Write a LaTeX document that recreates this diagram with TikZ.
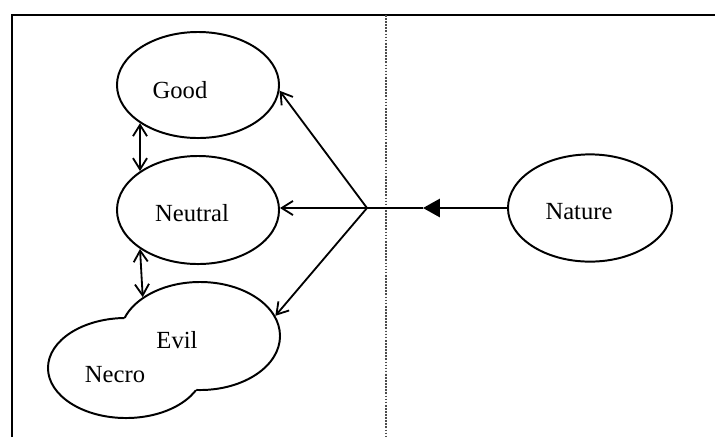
\documentclass[tikz,border=0pt]{standalone}
\usepackage{fontspec}
\setmainfont{Liberation Serif}
\usetikzlibrary{shapes.geometric, arrows.meta}

\begin{document}
\begin{tikzpicture}[x=0.025cm, y=-0.025cm,
		blob/.style={ellipse, draw, line width=1.4pt, inner sep=0pt, minimum width=4.05cm, minimum height=2.65cm},
		word/.style={font=\fontsize{17.5}{20}\selectfont, inner sep=0pt},
		link/.style={line width=1.3pt, >={Straight Barb[length=8pt, width=10pt]}}]
		\useasboundingbox (0,0) rectangle (715,437);
		\draw[line width=1.5pt] (12,437) -- (12,15) -- (715,15); % frame
		\draw[black!70, line width=1.2pt, densely dotted] (386,15) -- (386,437); % divider
%
		\node[blob] (good) at (198,85) {};
		\node[word] (goodtxt) at (180,90) {Good};
		\node[blob, minimum height=2.7cm] (neutral) at (198,210) {};
		\node[word] (neutraltxt) at (192,213) {Neutral};
		\begin{scope}[even odd rule]
			\clip (0,0) rectangle (715,437) (200,336) ellipse [x radius=80, y radius=54];
			\node[blob, minimum width=3.9cm, minimum height=2.5cm] (necro) at (126,368) {};
		\end{scope}
		\begin{scope}[even odd rule]
			\clip (0,0) rectangle (715,437) (126,368) ellipse [x radius=78, y radius=50];
			\node[blob, minimum width=4cm, minimum height=2.7cm] (evil) at (200,336) {};
		\end{scope}
		\node[word] (eviltxt) at (177,340) {Evil};
		\node[word] (necrotxt) at (115,375) {Necro};
		\node[blob, minimum width=4.1cm, minimum height=2.68cm] (nature) at (590,208) {};
		\node[word] (naturetxt) at (579,212) {Nature};
%
		\draw[link, <->] (good.south west) -- (neutral.north west);
		\draw[link, <->] (neutral.south west) -- (evil.north west);
		\coordinate (hub) at (367,208);
		\coordinate (mid) at (423,208);
		\draw[link, -{Triangle[length=12pt, width=13pt]}] (nature) -- (mid);
		\draw[link] (mid) -- (hub);
		\draw[link, ->] (hub) -- (good.-4);
		\draw[link, ->] (hub) -- (hub -| neutral.east);
		\draw[link, ->] (hub) -- (evil.15);
\end{tikzpicture}
\end{document}
